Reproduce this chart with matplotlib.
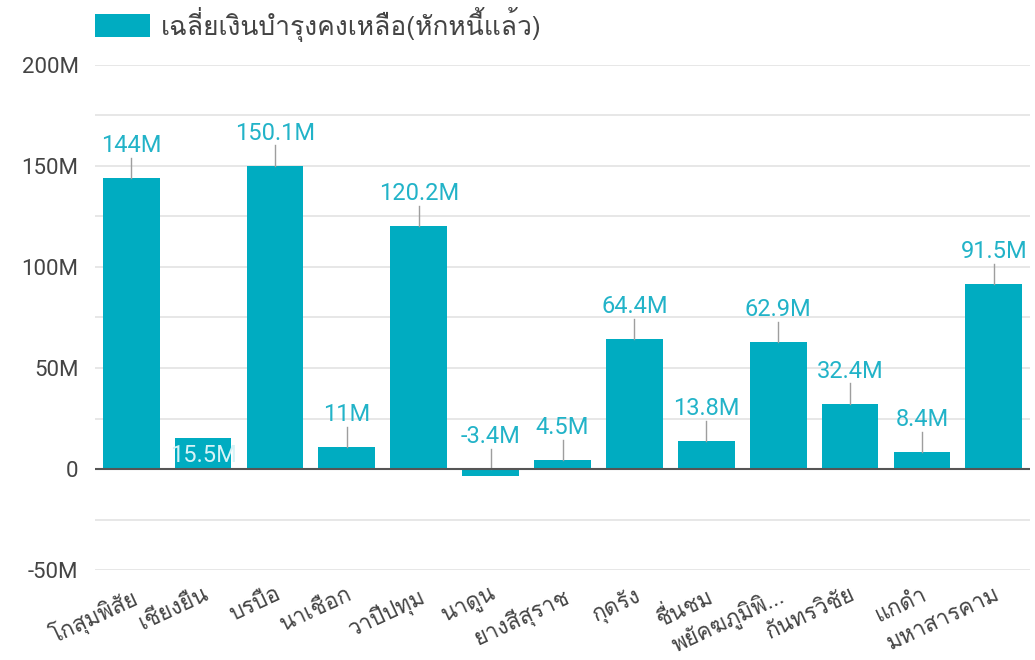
import matplotlib
matplotlib.use('Agg')
import matplotlib.pyplot as plt
from matplotlib import font_manager
from matplotlib.ft2font import FT2Font
from matplotlib.ticker import FuncFormatter, MultipleLocator

districts = ['โกสุมพิสัย', 'เชียงยืน', 'บรบือ', 'นาเชือก', 'วาปีปทุม', 'นาดูน',
             'ยางสีสุราช', 'กุดรัง', 'ชื่นชม', 'พยัคฆภูมิพิ...', 'กันทรวิชัย',
             'แกดำ', 'มหาสารคาม']
values = [144, 15.5, 150.1, 11, 120.2, -3.4, 4.5, 64.4, 13.8, 62.9, 32.4, 8.4, 91.5]
value_labels = ['144M', '15.5M', '150.1M', '11M', '120.2M', '-3.4M', '4.5M',
                '64.4M', '13.8M', '62.9M', '32.4M', '8.4M', '91.5M']
legend_label = 'เฉลี่ยเงินบำรุงคงเหลือ(หักหนี้แล้ว)'

# find a font that can draw Thai
thai_font = None
for f in font_manager.fontManager.ttflist:
    try:
        ft = FT2Font(f.fname)
        if ft.get_char_index(ord('ก')) and ft.get_char_index(ord('A')):
            thai_font = f.name
            break
    except Exception:
        pass
fams = ([thai_font] if thai_font else []) + ['Roboto', 'DejaVu Sans']
plt.rcParams['font.family'] = fams
num_font = ['Roboto', 'DejaVu Sans']

bar_color = '#00acc1'
label_color = '#22b3c8'

fig = plt.figure(figsize=(10.35, 6.6), dpi=100)
ax = fig.add_axes([0.092, 0.136, 0.903, 0.766])

x = list(range(len(values)))
bars = ax.bar(x, values, width=0.79, color=bar_color, zorder=3, label=legend_label)

for i, v in enumerate(values):
    if i == 1:
        # this one sits inside its bar in the original
        ax.text(i, v - 9, value_labels[i], ha='center', va='center',
                color='#d6f3f7', fontsize=17, zorder=4, family=num_font)
        continue
    base = max(v, 0)
    ax.plot([i, i], [base, base + 10], color='#9e9e9e', lw=1, zorder=4)
    ax.text(i, base + 16, value_labels[i], ha='center', va='center',
            color=label_color, fontsize=17, zorder=4, family=num_font)

ax.set_xlim(-0.5, 12.5)
ax.set_ylim(-50, 200)
ax.yaxis.set_major_locator(MultipleLocator(50))
ax.yaxis.set_minor_locator(MultipleLocator(25))
ax.yaxis.set_major_formatter(FuncFormatter(lambda v, p: '0' if v == 0 else '%dM' % v))
ax.grid(axis='y', which='both', color='#e3e3e3', lw=1.2, zorder=0)
ax.axhline(0, color='#555555', lw=1.5, zorder=5)

for s in ax.spines.values():
    s.set_visible(False)
ax.tick_params(axis='both', which='both', length=0)
ax.tick_params(axis='y', labelsize=16, labelcolor='#444444', pad=12)
for t in ax.get_yticklabels():
    t.set_family(num_font)
ax.set_xticks(x)
ax.set_xticklabels(districts, rotation=25, ha='right', rotation_mode='anchor',
                   fontsize=16, color='#444444')
ax.tick_params(axis='x', pad=10)

leg = fig.legend(handles=[bars], labels=[legend_label], loc='upper left',
                 bbox_to_anchor=(0.074, 1.018), frameon=False, fontsize=19,
                 handlelength=2.1, handleheight=1.0, handletextpad=0.4,
                 borderpad=0.2)
for t in leg.get_texts():
    t.set_color('#444444')

fig.savefig('out.png', dpi=100, facecolor='white')
